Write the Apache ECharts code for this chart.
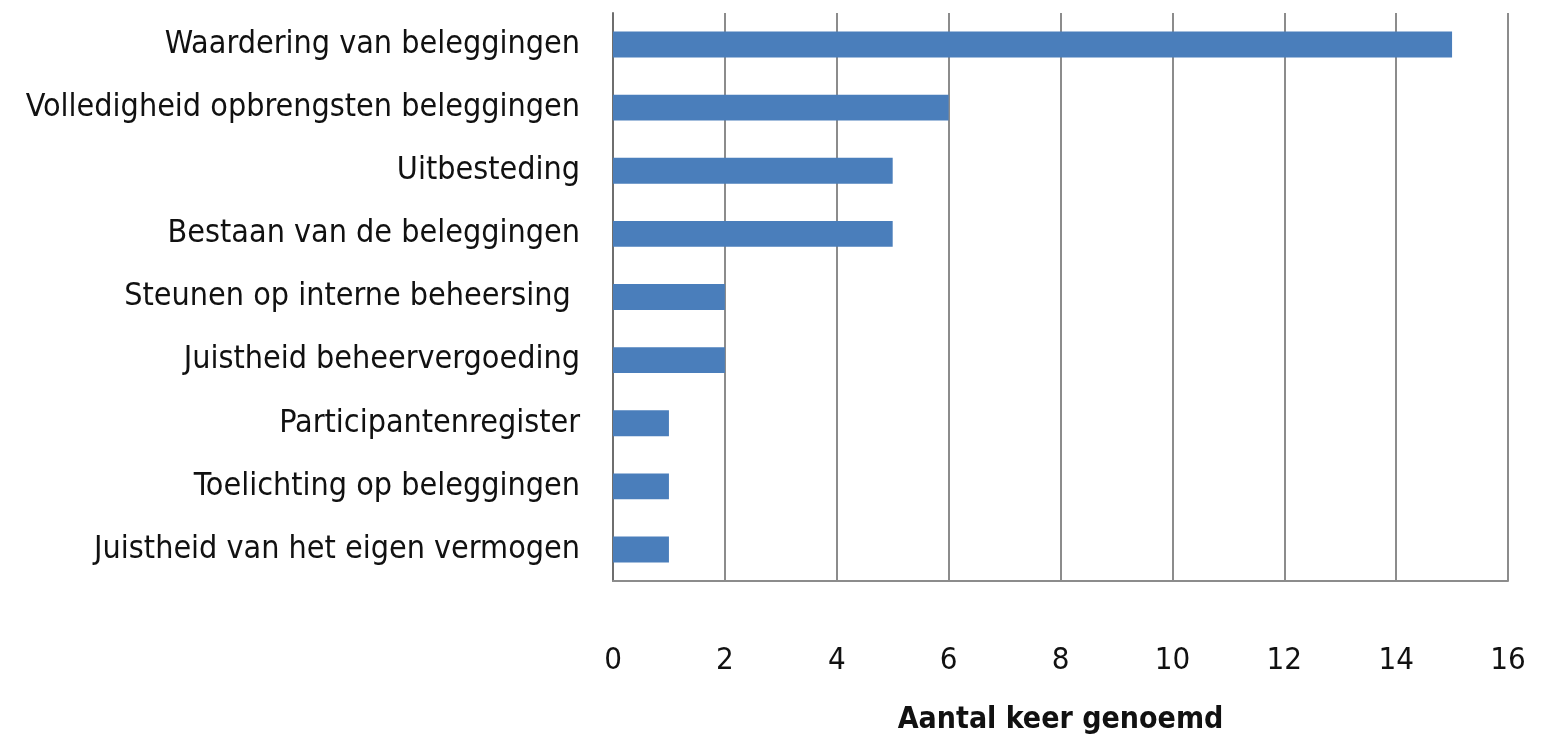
<!DOCTYPE html>
<html>
<head>
<meta charset="utf-8">
<script src="https://cdn.jsdelivr.net/npm/echarts@6/dist/echarts.min.js"></script>
<style>
  html, body { margin: 0; padding: 0; background: #fff; }
  #chart { width: 1541px; height: 741px; }
</style>
</head>
<body>
<div id="chart"></div>
<script>
// categories bottom-to-top, as the y axis draws them
const categories = [
  'Juistheid van het eigen vermogen',
  'Toelichting op beleggingen',
  'Participantenregister',
  'Juistheid beheervergoeding',
  'Steunen op interne beheersing ',
  'Bestaan van de beleggingen',
  'Uitbesteding',
  'Volledigheid opbrengsten beleggingen',
  'Waardering van beleggingen'
]
const counts = [1, 1, 1, 2, 2, 5, 5, 6, 15]
const xTicks = [0, 2, 4, 6, 8, 10, 12, 14, 16]

const font = '"Liberation Sans Narrow", "DejaVu Sans Condensed", "Open Sans", sans-serif'

const chart = echarts.init(document.getElementById('chart'))
chart.setOption({
  animation: false,
  grid: { left: 613, right: 33, top: 13, bottom: 160, containLabel: false },
  xAxis: {
    type: 'value',
    min: xTicks[0],
    max: xTicks[xTicks.length - 1],
    interval: 2,
    name: 'Aantal keer genoemd',
    nameLocation: 'middle',
    nameGap: 124,
    nameTextStyle: { fontFamily: font, fontSize: 30, fontWeight: 'bold', color: '#111' },
    axisLine: { show: true, lineStyle: { color: '#8c8c8c', width: 2 } },
    axisTick: { show: false },
    axisLabel: { margin: 64, fontFamily: font, fontSize: 31, color: '#111' },
    splitLine: { show: true, lineStyle: { color: '#8c8c8c', width: 2 } }
  },
  yAxis: {
    type: 'category',
    data: categories,
    axisLine: { show: true, lineStyle: { color: '#6e6e6e', width: 2 } },
    axisTick: { show: false },
    axisLabel: { margin: 33, fontFamily: font, fontSize: 32, color: '#111' }
  },
  series: [{
    type: 'bar',
    data: counts,
    barWidth: '41%',
    itemStyle: { color: '#4a7ebb' }
  }]
})
</script>
</body>
</html>
